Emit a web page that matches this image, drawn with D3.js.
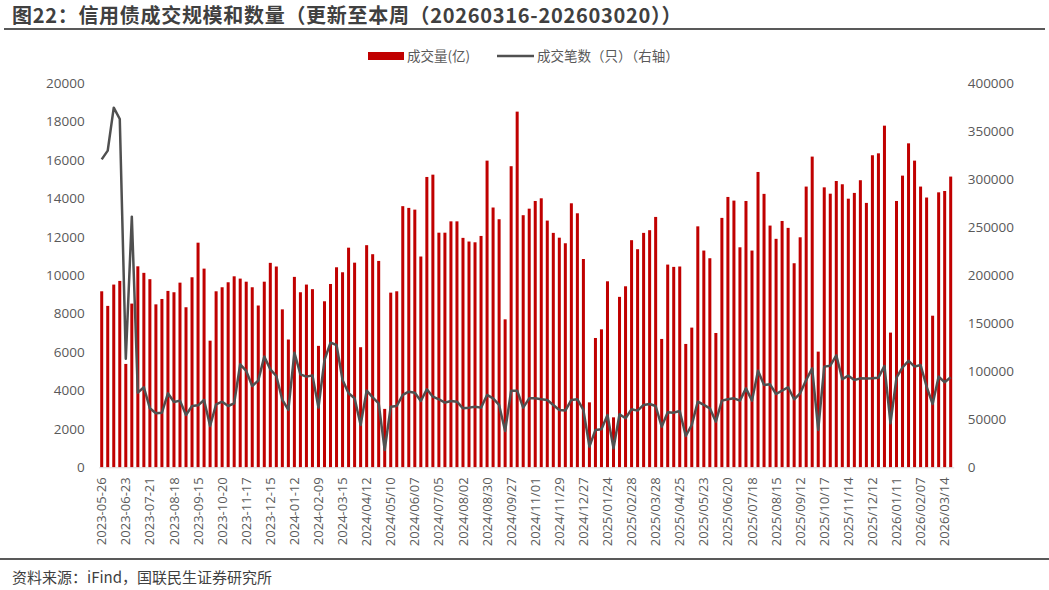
<!DOCTYPE html>
<html lang="zh">
    <head>
        <meta charset="utf-8">
        <title>信用债成交规模和数量</title>
        <script src="https://d3js.org/d3.v7.min.js"></script>
        <style type="text/css">
            body {
                margin: 0;
                background: white;
            }
            .axis text {
                font-family: "Open Sans", "Noto Sans CJK SC", sans-serif;
                font-size: 13.5px;
                fill: #595959;
            }
            .xaxis text {
                font-size: 13px;
            }
            .cn {
                font-family: "Noto Sans CJK SC", sans-serif;
            }
        </style>
    </head>
    <body>
        <script type="text/javascript">

            // every 4th week gets a label
            const tickLabels = ["2023-05-26","2023-06-23","2023-07-21","2023-08-18","2023-09-15","2023-10-20",
                "2023-11-17","2023-12-15","2024-01-12","2024-02-09","2024-03-15","2024/04/12","2024/05/10",
                "2024/06/07","2024/07/05","2024/08/02","2024/08/30","2024/09/27","2024/11/01","2024/11/29",
                "2024/12/27","2025/01/24","2025/02/28","2025/03/28","2025/04/25","2025/05/23","2025/06/20",
                "2025/07/18","2025/08/15","2025/09/12","2025/10/17","2025/11/14","2025/12/12","2026/01/11",
                "2026/02/07","2026/03/14"];

            // 成交量(亿), left axis
            const volume = [
                9160, 8400, 9510, 9700, 5380, 8520, 10460, 10120, 9790, 8480,
                8760, 9180, 9110, 9610, 8330, 9890, 11690, 10340, 6590, 9160,
                9370, 9630, 9940, 9820, 9660, 9370, 8420, 9660, 10640, 10450,
                8220, 6650, 9910, 9110, 9510, 9270, 6320, 8640, 9540, 10410,
                10150, 11430, 10650, 6250, 11560, 11090, 10740, 3040, 9090, 9160,
                13590, 13500, 13410, 10970, 15110, 15230, 12210, 12210, 12800, 12800,
                11940, 11750, 11710, 12040, 15960, 13520, 12910, 7700, 15670, 18510,
                13120, 13460, 13860, 14000, 12840, 12200, 11950, 11660, 13740, 13220,
                10840, 3380, 6730, 7180, 9680, 2600, 8870, 9420, 11820, 11350,
                12200, 12340, 13030, 6680, 10550, 10430, 10450, 6420, 7270, 12540,
                11280, 10880, 6990, 12980, 14070, 13880, 11450, 13860, 11280, 15370,
                14230, 12580, 11890, 12820, 12460, 10620, 11970, 14610, 16170, 6020,
                14570, 14240, 14900, 14730, 13980, 14280, 14940, 13760, 16240, 16340,
                17780, 7010, 13860, 15180, 16860, 15960, 14610, 14040, 7890, 14310,
                14380, 15130];

            // 成交笔数(只), right axis
            const trades = [
                320500, 329600, 374300, 362500, 113100, 260900, 77700, 83300, 61400, 56200,
                56900, 77000, 68000, 69400, 54500, 63800, 64500, 70100, 43000, 65600,
                68300, 63800, 66600, 107200, 100300, 84600, 90200, 115200, 102000, 95000,
                70100, 59700, 119300, 96800, 94400, 95700, 62100, 111700, 129700, 127300,
                90900, 77000, 71800, 44100, 79800, 72800, 66600, 18000, 63100, 63800,
                75300, 78700, 77700, 69000, 81200, 73500, 70800, 67300, 69000, 68300,
                61400, 62100, 63100, 62100, 75300, 71800, 64900, 37800, 79800, 79800,
                62100, 71800, 71800, 70800, 70100, 64900, 59700, 59000, 70100, 70800,
                59700, 21500, 38900, 39500, 54500, 19800, 55200, 51000, 60400, 59000,
                64900, 65900, 63800, 42300, 57200, 56900, 58600, 32600, 44100, 68300,
                64900, 61400, 47500, 69400, 70800, 71800, 69400, 82200, 69400, 100600,
                85700, 86400, 76300, 79800, 83300, 70800, 77000, 90900, 103000, 38900,
                104800, 105800, 116600, 91600, 95400, 90900, 92600, 92300, 92600, 93300,
                105500, 45800, 93300, 104100, 110700, 104800, 106500, 84000, 65900, 94400,
                88500, 93700];

            const leftTicks = d3.range(0, 20001, 2000);
            const rightTicks = d3.range(0, 400001, 50000);

            const w = 1049;
            const h = 590;
            const plotLeft = 98.7, plotRight = 953.7;
            const plotTop = 83, plotBottom = 467.3;

            const svg = d3.select("body")
                .append("svg")
                .attr("width", w)
                .attr("height", h);

            svg.append("rect").attr("width", w).attr("height", h).attr("fill", "white");

            // title + rules
            svg.append("text")
                .attr("class", "cn")
                .attr("x", 12)
                .attr("y", 23)
                .attr("font-size", "20px")
                .attr("font-weight", "bold")
                .attr("letter-spacing", "0.7px")
                .attr("fill", "#404040")
                .text("图22：信用债成交规模和数量（更新至本周（20260316-202603020））");

            svg.append("line")
                .attr("x1", 4).attr("x2", 1045)
                .attr("y1", 29).attr("y2", 29)
                .attr("stroke", "#595959").attr("stroke-width", 2);

            svg.append("line")
                .attr("x1", 0).attr("x2", 1049)
                .attr("y1", 559).attr("y2", 559)
                .attr("stroke", "#595959").attr("stroke-width", 2);

            svg.append("text")
                .attr("class", "cn")
                .attr("x", 12)
                .attr("y", 583)
                .attr("font-size", "15px")
                .attr("fill", "#404040")
                .text("资料来源：iFind，国联民生证券研究所");

            // scales
            const xScale = d3.scaleBand()
                .domain(d3.range(volume.length))
                .range([plotLeft, plotRight])
                .paddingInner(0.5)
                .paddingOuter(0.25);

            const yLeft = d3.scaleLinear()
                .domain([0, 20000])
                .range([plotBottom, plotTop]);

            const yRight = d3.scaleLinear()
                .domain([0, 400000])
                .range([plotBottom, plotTop]);

            // bars
            svg.append("g")
                .selectAll("rect")
                .data(volume)
                .join("rect")
                .attr("x", (d, i) => xScale(i))
                .attr("width", xScale.bandwidth())
                .attr("y", d => yLeft(d))
                .attr("height", d => yLeft(0) - yLeft(d))
                .attr("fill", "#c00000");

            // axes
            const bottomAxis = d3.axisBottom(xScale)
                .tickValues(d3.range(0, volume.length, 4))
                .tickFormat((d, i) => tickLabels[i])
                .tickSize(0)
                .tickSizeOuter(0);

            const xg = svg.append("g")
                .attr("class", "axis xaxis")
                .attr("transform", "translate(0," + plotBottom + ")")
                .call(bottomAxis);
            xg.select(".domain").attr("stroke", "#d9d9d9");
            xg.selectAll("text")
                .attr("transform", "rotate(-90)")
                .attr("x", -10)
                .attr("y", 0)
                .attr("dy", "0.35em")
                .style("text-anchor", "end");

            const leftAxis = d3.axisLeft(yLeft)
                .tickValues(leftTicks)
                .tickFormat(d3.format("d"))
                .tickSize(0)
                .tickPadding(14);

            const lg = svg.append("g")
                .attr("class", "axis")
                .attr("transform", "translate(" + plotLeft + ",0)")
                .call(leftAxis);
            lg.select(".domain").remove();

            const rightAxis = d3.axisRight(yRight)
                .tickValues(rightTicks)
                .tickFormat(d3.format("d"))
                .tickSize(0)
                .tickPadding(14);

            const rg = svg.append("g")
                .attr("class", "axis")
                .attr("transform", "translate(" + plotRight + ",0)")
                .call(rightAxis);
            rg.select(".domain").remove();

            // line on right axis
            const coords = d3.line()
                .x((d, i) => xScale(i) + xScale.bandwidth() / 2)
                .y(d => yRight(d));

            svg.append("path")
                .datum(trades)
                .attr("d", coords)
                .attr("fill", "none")
                .attr("stroke", "#505050")
                .attr("stroke-width", 2.5)
                .attr("stroke-linejoin", "round");

            // legend
            const legend = svg.append("g").attr("class", "cn");
            legend.append("rect")
                .attr("x", 368).attr("y", 52)
                .attr("width", 36).attr("height", 8)
                .attr("fill", "#c00000");
            legend.append("text")
                .attr("x", 407).attr("y", 60.5)
                .attr("font-size", "13.5px")
                .attr("fill", "#595959")
                .text("成交量(亿)");
            legend.append("line")
                .attr("x1", 497).attr("x2", 534)
                .attr("y1", 56).attr("y2", 56)
                .attr("stroke", "#505050").attr("stroke-width", 2.5);
            legend.append("text")
                .attr("x", 537).attr("y", 60.5)
                .attr("font-size", "13.5px")
                .attr("fill", "#595959")
                .text("成交笔数（只）（右轴）");

        </script>
    </body>
</html>
